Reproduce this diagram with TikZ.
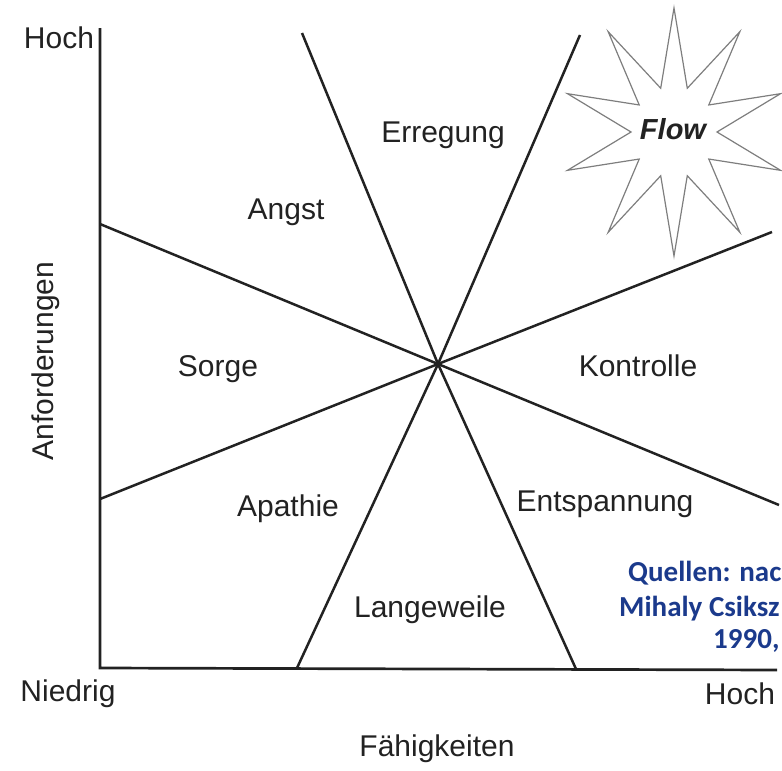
\documentclass[tikz,border=0pt]{standalone}
\usepackage{fontspec}
\setmainfont{Liberation Sans}
\newfontfamily\quellfont{Carlito}
\usepackage{tikz}
\usepackage{xcolor}
\usetikzlibrary{positioning,calc}
\definecolor{ink}{HTML}{222222}
\definecolor{stargray}{HTML}{7E7E7E}
\definecolor{quelleblue}{HTML}{1B3A8C}

\tikzset{
  zone/.style={font=\fontsize{30}{35}\selectfont,text=ink,inner sep=0pt,anchor=base},
  border/.style={draw=ink,line width=2.7pt,line join=miter},
  ray/.style={draw=ink,line width=2.5pt},
  starline/.style={draw=stargray,line width=1.2pt,line join=miter},
  quelle/.style={font=\quellfont\bfseries\fontsize{29}{35}\selectfont,
                 text=quelleblue,inner sep=0pt,anchor=base west}
}

\begin{document}
\begin{tikzpicture}[x=1pt,y=-1pt]
  \useasboundingbox (0,0) rectangle (782,771);

  % axes
  \coordinate (ytop) at (100,28);
  \coordinate (origin) at (100,668);
  \coordinate (xend) at (777,670);
  \draw[border] (ytop) -- (origin) -- (xend);

  % rays meeting in the middle
  \coordinate (mid) at (438,364);
  \coordinate (nw) at (302,33);
  \coordinate (ne) at (580,35);
  \coordinate (wu) at (100,224);
  \coordinate (wl) at (100,499);
  \coordinate (eu) at (772,232);
  \coordinate (el) at (779,505);
  \coordinate (sw) at (297,668);
  \coordinate (se) at (576,669);
  \foreach \p in {nw,ne,wu,wl,eu,el,sw,se}
    \draw[ray] (mid) -- (\p);

  % flow star
  \begin{scope}[shift={(674,132)}]
    \draw[starline] (0,-124)
      \foreach \k in {1,...,19}{
        -- ({ifthenelse(iseven(\k),112,43)*cos(90+18*\k)},
            {-ifthenelse(iseven(\k),124,46)*sin(90+18*\k)})
      } -- cycle;
  \end{scope}
  \node[zone,font=\fontsize{29}{34}\selectfont\bfseries\itshape] (flow) at (673,139) {Flow};

  % regions
  \node[zone] (erregung) at (443,142) {Erregung};
  \node[zone] (angst) at (286,219) {Angst};
  \node[zone] (sorge) at (218,376) {Sorge};
  \node[zone] (kontrolle) at (638,376) {Kontrolle};
  \node[zone] (apathie) at (288,516) {Apathie};
  \node[zone] (entspannung) at (605,511) {Entspannung};
  \node[zone] (langeweile) at (430,617) {Langeweile};

  % axis labels
  \node[zone] (yhoch) at (59,48) {Hoch};
  \node[zone] (niedrig) at (68,701) {Niedrig};
  \node[zone] (xhoch) at (740,704) {Hoch};
  \node[zone] (faehig) at (437,756) {Fähigkeiten};
  \node[zone,rotate=90] (anford) at (53,361) {Anforderungen};

  % source note (cut at the right edge)
  \node[quelle] (q1) at (628,581) {Quellen: nac};
  \node[quelle] (q2) at (619,616) {Mihaly Csiksz};
  \node[quelle] (q3) at (713,648) {1990,};
\end{tikzpicture}
\end{document}
